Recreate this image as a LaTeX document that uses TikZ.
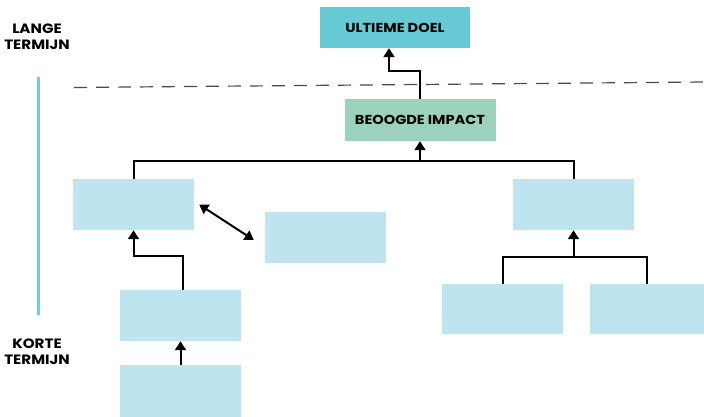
\documentclass[tikz,border=0pt]{standalone}
\usepackage{fontspec}
\setmainfont{Poppins}[FakeStretch=1.12]
\usetikzlibrary{arrows.meta,calc}
\definecolor{boxblue}{HTML}{BEE5EF}
\definecolor{goalcyan}{HTML}{67C9D3}
\definecolor{impactgreen}{HTML}{9CD1BC}
\definecolor{axiscyan}{HTML}{6ECFD9}
\definecolor{dashgray}{HTML}{4A4A4A}
\tikzset{
  box/.style={fill=boxblue, draw=none, minimum width=121pt, minimum height=51pt, inner sep=0pt},
  lbl/.style={font=\bfseries\fontsize{13}{15}\selectfont, text=black},
  conn/.style={line width=2pt, black},
  tip/.tip={Triangle[width=11pt,length=9pt]},
  arr/.style={conn, -tip},
  darr/.style={conn, tip-tip},
  side/.style={font=\bfseries\fontsize{13.5}{16}\selectfont, align=center}
}
\begin{document}
\begin{tikzpicture}[x=1pt,y=-1pt]
\useasboundingbox (0,0) rectangle (704,416);

% time axis labels and bar
\node[side] (lange) at (37,37) {LANGE\\TERMIJN};
\node[side] (korte) at (37,352) {KORTE\\TERMIJN};
\draw[axiscyan, line width=3pt] (38.5,77) -- (38.5,315);

% long/short term boundary
\draw[dashgray, line width=1.2pt, dash pattern=on 13pt off 9pt] (74,87.5) -- (704,82);

% top level
\node[fill=goalcyan, minimum width=150pt, minimum height=41pt, inner sep=0pt, lbl] (doel) at (395,27.5) {ULTIEME DOEL};
\node[fill=impactgreen, minimum width=151pt, minimum height=42pt, inner sep=0pt, lbl] (impact) at (420,120) {BEOOGDE IMPACT};

% outcome boxes
\node[box] (a) at (133.5,204.5) {};
\node[box] (b) at (325.5,237.5) {};
\node[box] (c) at (180.5,315.5) {};
\node[box, minimum height=52pt] (d) at (180.5,391) {};
\node[box] (e) at (573.5,204.5) {};
\node[box, minimum height=50pt] (f) at (502.5,309) {};
\node[box, minimum width=114pt, minimum height=50pt] (g) at (647,309) {};

% connectors
\draw[arr] (impact.north) -- (impact.north |- 0,71) -| ($(doel.south)+(-6,0)$);
\draw[conn] (a.north) -- (a.north |- 0,161) -- (e.north |- 0,161) -- (e.north);
\draw[arr] (impact.south |- 0,161) -- (impact.south);
\draw[arr] ($(c.north)+(2.5,0)$) -- ($(c.north |- 0,256)+(2.5,0)$) -| (a.south);
\draw[arr] (d.north) -- (c.south);
\draw[darr] ($(a.east)+(5,0)$) -- ($(b.west)+(-11,2.5)$);
\draw[conn] (f.north) -- (f.north |- 0,257) -- (g.north |- 0,257) -- (g.north);
\draw[arr] (e.south |- 0,257) -- (e.south);
\end{tikzpicture}
\end{document}
